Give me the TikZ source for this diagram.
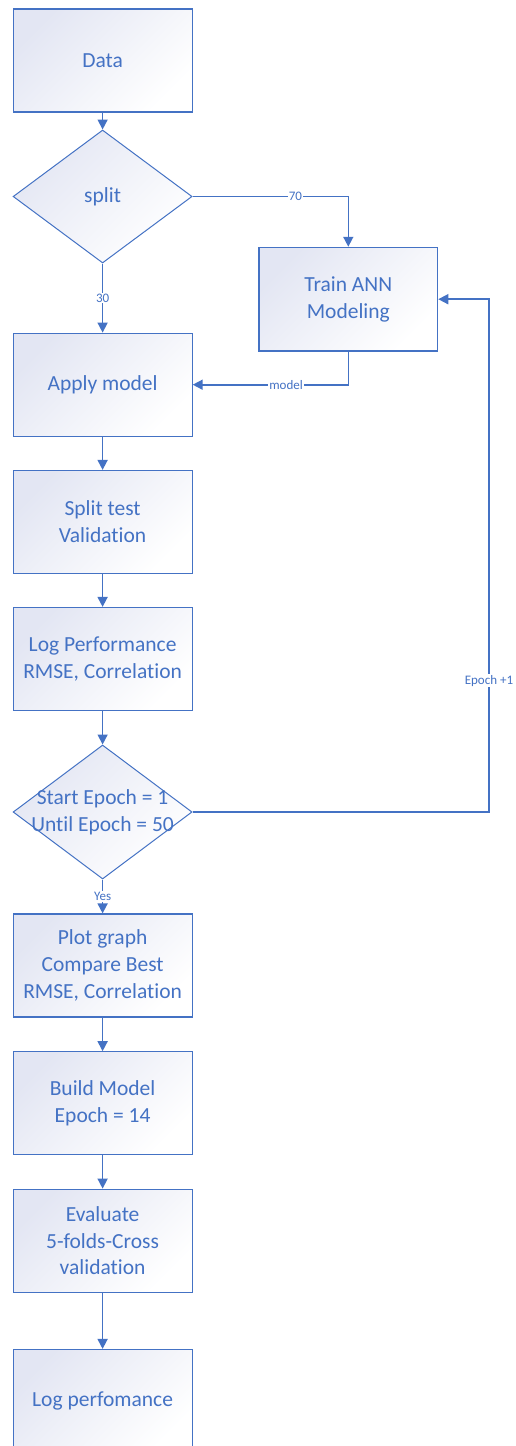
\documentclass[tikz,border=0pt]{standalone}
\usepackage{fontspec}
\setmainfont{Carlito}[Ligatures={NoCommon}]
\usetikzlibrary{shapes.geometric, arrows.meta}
\definecolor{flowblue}{HTML}{4472C4}
\definecolor{shadeblue}{HTML}{E3E6F3}

\begin{document}
\begin{tikzpicture}[x=1pt, y=-1pt,
    stepbox/.style={rectangle, draw=flowblue, line width=1.2pt, top color=shadeblue, bottom color=white, shading angle=45, minimum width=179pt, minimum height=103pt, inner sep=0pt, text=flowblue, font=\fontsize{21.5}{26.8}\selectfont, align=center},
    decision/.style={diamond, draw=flowblue, line width=1pt, top color=shadeblue, bottom color=white, shading angle=45, minimum width=179pt, minimum height=133pt, inner sep=0pt},
    dtext/.style={text=flowblue, font=\fontsize{21.5}{26.8}\selectfont, align=center, inner sep=0pt},
    flow/.style={-{Triangle[width=10pt,length=10pt]}, line width=1.6pt, draw=flowblue},
    edgelabel/.style={fill=white, inner sep=1pt, text=flowblue, font=\fontsize{13}{14}\selectfont}]
    \useasboundingbox (0,0) rectangle (515,1446);

    % Main column
    \node[stepbox] (data) at (102.6,60.5) {Data};
    \node[decision, label={[dtext]center:split}] (split) at (102.6,196.5) {};
    \node[stepbox] (apply) at (102.6,384.7) {Apply model};
    \node[stepbox] (splittest) at (102.6,522) {Split test\\Validation};
    \node[stepbox] (logperf) at (102.6,659) {Log Performance\\RMSE, Correlation};
    \node[decision, minimum height=134pt, label={[dtext]center:{Start Epoch = 1\\Until Epoch = 50}}] (epoch) at (102.6,812) {};
    \node[stepbox] (plot) at (102.6,965.5) {Plot graph\\Compare Best\\RMSE, Correlation};
    \node[stepbox] (build) at (102.6,1103.3) {Build Model\\Epoch = 14};
    \node[stepbox] (evaluate) at (102.6,1240.7) {Evaluate\\5-folds-Cross\\validation};
    \node[stepbox] (logfinal) at (102.6,1401) {Log perfomance};

    % Training branch
    \node[stepbox, minimum width=178.7pt, minimum height=103.7pt] (train) at (348.3,299.2) {Train ANN\\Modeling};
    \coordinate (loopc) at (489,812);

    % Connectors
    \draw[flow] (data) -- (split);
    \draw[flow] (split) -- node[edgelabel] (l30) {30} (apply);
    \draw[flow] (split.east) -| node[edgelabel, pos=0.33] (l70) {70} (train.north);
    \draw[flow] (train.south) |- node[edgelabel, pos=0.7] (lmodel) {model} (apply.east);
    \draw[flow] (apply) -- (splittest);
    \draw[flow] (splittest) -- (logperf);
    \draw[flow] (logperf) -- (epoch);
    \draw[flow] (epoch.east) -- (loopc) |- node[edgelabel, pos=0.128] (lepoch) {Epoch +1} (train.east);
    \draw[flow] (epoch) -- node[edgelabel] (lyes) {Yes} (plot);
    \draw[flow] (plot) -- (build);
    \draw[flow] (build) -- (evaluate);
    \draw[flow] (evaluate) -- (logfinal);
\end{tikzpicture}
\end{document}
